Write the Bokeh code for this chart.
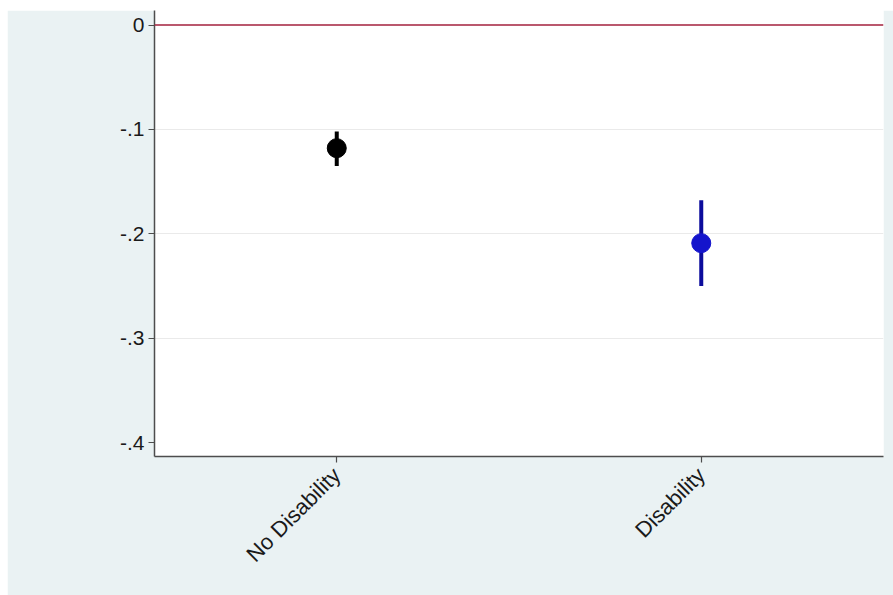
import math
from bokeh.plotting import figure
from bokeh.models import ColumnDataSource, FixedTicker, Range1d, Span
from bokeh.embed import file_html
from bokeh.resources import INLINE

# Point estimates with 95% confidence intervals by group
groups = ["No Disability", "Disability"]
positions = [1, 2]
estimates = [-0.118, -0.209]
ci_lower = [-0.135, -0.250]
ci_upper = [-0.102, -0.168]

y_ticks = [0, -0.1, -0.2, -0.3, -0.4]
y_tick_labels = ["0", "-.1", "-.2", "-.3", "-.4"]

marker_colors = ["#000000", "#1414CC"]
bar_colors = ["#000000", "#0C0C9C"]

BG = "#EAF2F3"
FONT = "Liberation Sans"

src = ColumnDataSource(dict(
    x=positions, est=estimates, lo=ci_lower, hi=ci_upper,
    mcol=marker_colors, bcol=bar_colors,
))

p = figure(
    width=886, height=585,
    x_range=Range1d(0.5, 2.5), y_range=Range1d(-0.4134, 0.0139),
    output_backend="svg", toolbar_location=None,
    min_border_left=147, min_border_right=10,
    min_border_top=0, min_border_bottom=139,
    background_fill_color="white", border_fill_color=BG,
    outline_line_color=None,
)
p.margin = (10, 0, 0, 7)

# reference line at zero
p.add_layout(Span(location=0, dimension="width",
                  line_color="#A3203C", line_width=1.6))

p.segment(x0="x", y0="lo", x1="x", y1="hi", source=src,
          line_color="bcol", line_width=4)
p.scatter(x="x", y="est", source=src, size=19,
          fill_color="mcol", line_color="mcol")

# axes
p.xaxis.ticker = FixedTicker(ticks=positions)
p.xaxis.major_label_overrides = {pos: g for pos, g in zip(positions, groups)}
p.xaxis.major_label_orientation = math.pi / 4
p.yaxis.ticker = FixedTicker(ticks=y_ticks)
p.yaxis.major_label_overrides = {t: s for t, s in zip(y_ticks, y_tick_labels)}

for ax in (p.xaxis[0], p.yaxis[0]):
    ax.axis_line_color = "#4D4D4D"
    ax.axis_line_width = 1.5
    ax.major_tick_line_color = "#4D4D4D"
    ax.major_tick_line_width = 1.2
    ax.major_tick_out = 6
    ax.major_tick_in = 0
    ax.minor_tick_line_color = None
    ax.major_label_text_font = FONT
    ax.major_label_text_color = "#1A1A1A"

p.yaxis.major_label_text_font_size = "21px"
p.yaxis.major_label_standoff = 4
p.xaxis.major_label_text_font_size = "22px"
p.xaxis.major_label_standoff = 9

p.xgrid.grid_line_color = None
p.ygrid.ticker = FixedTicker(ticks=[-0.1, -0.2, -0.3])
p.ygrid.grid_line_color = "#EAEAEA"
p.ygrid.grid_line_width = 1

open("out.html", "w").write(file_html(p, INLINE))
